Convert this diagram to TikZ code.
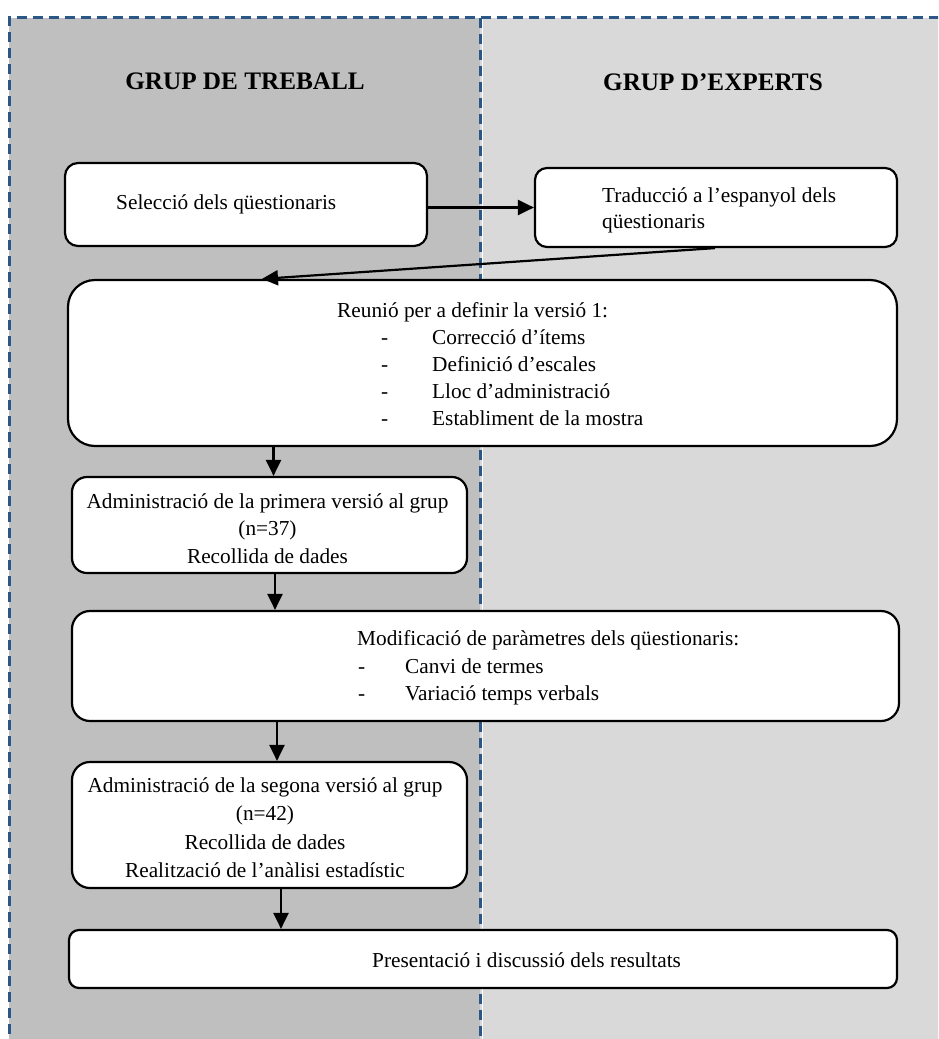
\documentclass[tikz,border=0pt]{standalone}
\usepackage{fontspec}
\setmainfont{Liberation Serif}
\usetikzlibrary{arrows.meta,calc}
\definecolor{leftgray}{HTML}{BFBFBF}
\definecolor{rightgray}{HTML}{D9D9D9}
\definecolor{borderblue}{HTML}{2A5785}
\begin{document}
\begin{tikzpicture}[x=1pt,y=-1pt,
  flowbox/.style={draw=black,line width=2.2pt,fill=white,inner sep=0pt},
  txt/.style={inner sep=0pt,font=\fontsize{21.3}{27.7}\selectfont},
  hdr/.style={inner sep=0pt,font=\fontsize{25.2}{30}\selectfont\bfseries},
  arr/.style={line width=2.2pt,-{Triangle[length=16pt,width=15pt]}},
  lane/.style={draw=borderblue,line width=3pt,dash pattern=on 10pt off 6pt}]
\useasboundingbox (0,0) rectangle (938,1039);
\clip (0,0) rectangle (938,1039);
% swimlanes
\fill[leftgray] (9,17.5) rectangle (480,1050);
\fill[rightgray] (480,17.5) rectangle (950,1050);
\draw[white,line width=1pt] (482.4,17.5) -- (482.4,1050);
\draw[lane] (9,1050) -- (9,17.5) -- (950,17.5);
\draw[lane] (480,17.5) -- (480,1050);
% headers
\node[hdr,anchor=base] (h1) at (245,89) {GRUP DE TREBALL};
\node[hdr,anchor=base] (h2) at (713,90) {GRUP D’EXPERTS};
% boxes
\node[flowbox,minimum width=362pt,minimum height=83pt,rounded corners=13pt] (b1) at (246,204.5) {};
\node[flowbox,minimum width=362pt,minimum height=79pt,rounded corners=12pt] (b2) at (716,207.5) {};
\node[flowbox,minimum width=829pt,minimum height=166pt,rounded corners=27pt] (b3) at (482.5,363) {};
\node[flowbox,minimum width=395pt,minimum height=96pt,rounded corners=15pt] (b4) at (269.5,525) {};
\node[flowbox,minimum width=827pt,minimum height=110pt,rounded corners=18pt] (b5) at (485.5,666) {};
\node[flowbox,minimum width=395pt,minimum height=126pt,rounded corners=18pt] (b6) at (269.5,825) {};
\node[flowbox,minimum width=828pt,minimum height=58pt,rounded corners=10pt] (b7) at (483,959) {};
% texts
\node[txt,anchor=base west] (t1) at (116,209) {Selecció dels qüestionaris};
\node[txt,anchor=base west] (t2a) at (602,202) {Traducció a l’espanyol dels};
\node[txt,anchor=base west] (t2b) at (602,228) {qüestionaris};
\node[txt,anchor=base west] (t3) at (337,317) {Reunió per a definir la versió 1:};
\node[txt,anchor=base west] (d3a) at (381,344) {-};
\node[txt,anchor=base west] (t3a) at (432,344) {Correcció d’ítems};
\node[txt,anchor=base west] (d3b) at (381,371) {-};
\node[txt,anchor=base west] (t3b) at (432,371) {Definició d’escales};
\node[txt,anchor=base west] (d3c) at (381,398) {-};
\node[txt,anchor=base west] (t3c) at (432,398) {Lloc d’administració};
\node[txt,anchor=base west] (d3d) at (381,425) {-};
\node[txt,anchor=base west] (t3d) at (432,425) {Establiment de la mostra};
\node[txt,anchor=base] (t4a) at (267.5,508) {Administració de la primera versió al grup};
\node[txt,anchor=base] (t4b) at (267.5,535.5) {(n=37)};
\node[txt,anchor=base] (t4c) at (267.5,563) {Recollida de dades};
\node[txt,anchor=base west] (t5) at (357,645) {Modificació de paràmetres dels qüestionaris:};
\node[txt,anchor=base west] (d5a) at (358,673) {-};
\node[txt,anchor=base west] (t5a) at (405,673) {Canvi de termes};
\node[txt,anchor=base west] (d5b) at (358,700) {-};
\node[txt,anchor=base west] (t5b) at (405,700) {Variació temps verbals};
\node[txt,anchor=base] (t6a) at (265,792) {Administració de la segona versió al grup};
\node[txt,anchor=base] (t6b) at (265,820) {(n=42)};
\node[txt,anchor=base] (t6c) at (265,849) {Recollida de dades};
\node[txt,anchor=base] (t6d) at (265,877) {Realització de l’anàlisi estadístic};
\node[txt,anchor=base west] (t7) at (372,967) {Presentació i discussió dels resultats};
% connectors
\draw[arr] (b1.east |- b2.west) -- (b2.west);
\draw[arr] ([xshift=-1pt]b2.south) -- ([xshift=-220.5pt]b3.north);
\draw[arr] ([xshift=4pt]b3.south -| b4.north) -- ([xshift=4pt]b4.north);
\draw[arr] ([xshift=5.5pt]b4.south) -- ([xshift=5.5pt]b4.south |- b5.north);
\draw[arr] ([xshift=7.5pt]b5.south -| b6.north) -- ([xshift=7.5pt]b6.north);
\draw[arr] ([xshift=11.5pt]b6.south) -- ([xshift=11.5pt]b6.south |- b7.north);
\end{tikzpicture}
\end{document}
